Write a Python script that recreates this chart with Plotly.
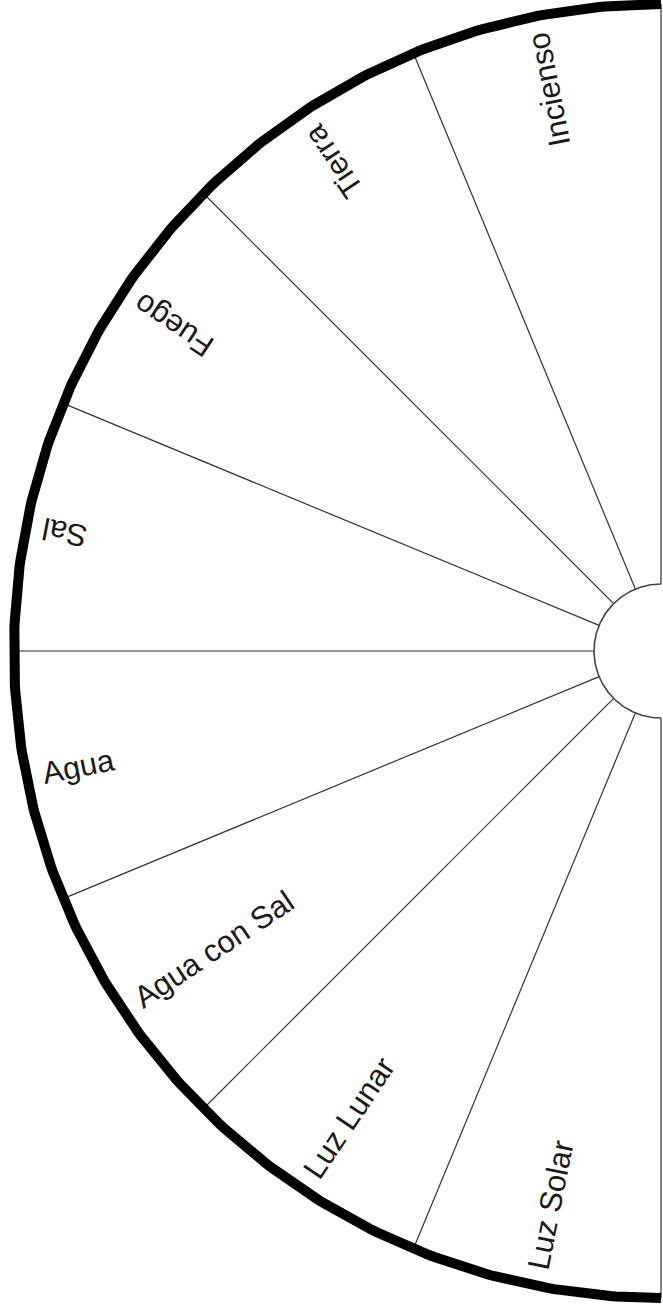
import numpy as np
import plotly.graph_objects as go

# Sector labels, counter-clockwise from the top of the half wheel
LABELS = ["Incienso", "Tierra", "Fuego", "Sal", "Agua", "Agua con Sal", "Luz Lunar", "Luz Solar"]
START_ANGLE = 90.0   # degrees, top of the wheel
SPAN = 180.0         # half wheel opening to the left

# Geometry (in pixel-like units, centre of wheel at 0, 0)
R_OUT = 647
R_IN = 67
R_TEXT = 630
FONT_SIZE = 31

# Rough Arial advance widths (em) to centre the rotated labels
CHAR_W = {
    "A": .667, "F": .611, "I": .278, "L": .556, "S": .667, "T": .611,
    "a": .556, "c": .5, "e": .556, "g": .556, "i": .222, "l": .222,
    "n": .556, "o": .556, "r": .333, "s": .5, "u": .556, "z": .5, " ": .278,
}


def text_width(s):
    return sum(CHAR_W.get(ch, 0.55) for ch in s) * FONT_SIZE


step = SPAN / len(LABELS)
edges = START_ANGLE + step * np.arange(len(LABELS) + 1)
mids = edges[:-1] + step / 2

fig = go.Figure()

# Spokes between sectors
sx, sy = [], []
for a in np.radians(edges):
    sx += [R_IN * np.cos(a), R_OUT * np.cos(a), None]
    sy += [R_IN * np.sin(a), R_OUT * np.sin(a), None]
fig.add_trace(go.Scatter(x=sx, y=sy, mode="lines",
                         line=dict(color="#333333", width=1.2), hoverinfo="skip"))

# Inner hub and thick outer rim
t = np.radians(np.linspace(START_ANGLE, START_ANGLE + SPAN, 361))
fig.add_trace(go.Scatter(x=R_IN * np.cos(t), y=R_IN * np.sin(t), mode="lines",
                         line=dict(color="#444444", width=1.6), hoverinfo="skip"))
fig.add_trace(go.Scatter(x=R_OUT * np.cos(t), y=R_OUT * np.sin(t), mode="lines",
                         line=dict(color="black", width=10), hoverinfo="skip"))

# Radial labels, outer end near the rim
for lab, m in zip(LABELS, mids):
    rc = R_TEXT - text_width(lab) / 2
    phi = m if m <= 180 else m - 180   # reading direction
    fig.add_annotation(
        x=rc * np.cos(np.radians(m)), y=rc * np.sin(np.radians(m)),
        xref="x", yref="y", text=lab, showarrow=False,
        textangle=-phi, xanchor="center", yanchor="middle",
        font=dict(family="Liberation Sans, Arial, sans-serif", size=FONT_SIZE, color="#1a1a1a"),
    )

fig.update_layout(
    width=663, height=1313,
    margin=dict(l=0, r=0, t=0, b=0),
    paper_bgcolor="white", plot_bgcolor="white",
    showlegend=False,
    xaxis=dict(range=[-661, 2], visible=False, fixedrange=True),
    yaxis=dict(range=[-662, 651], visible=False, fixedrange=True),
)

# drop the default page margin so the figure sits at the window corner
fig.write_html("out.html", config={"displayModeBar": False},
               post_script="document.body.style.margin='0';")
